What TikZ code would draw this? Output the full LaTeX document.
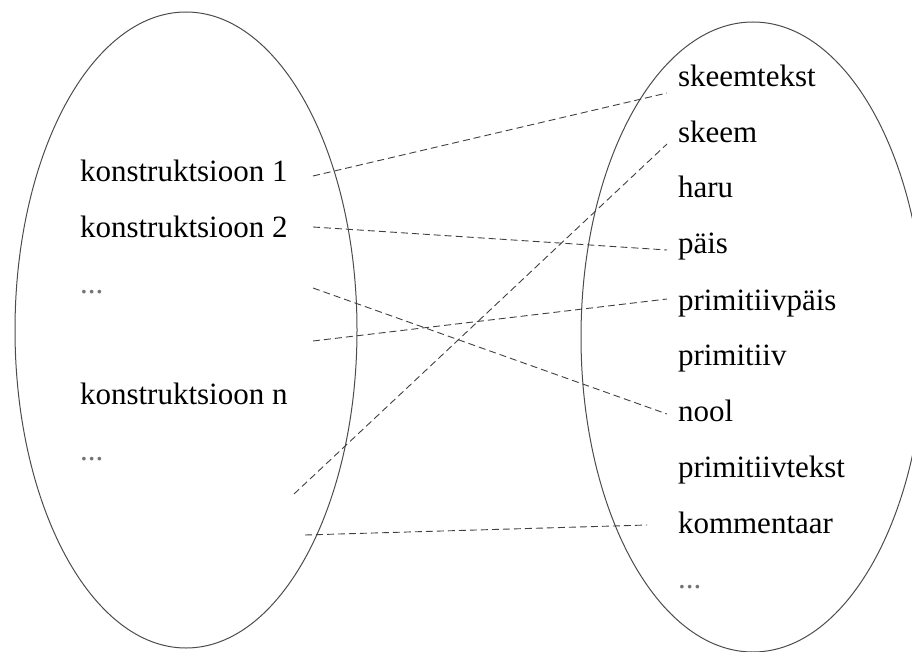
\documentclass[tikz,border=0pt]{standalone}
\usepackage{fontspec}
\setmainfont{Liberation Serif}
\begin{document}
\begin{tikzpicture}[x=1pt,y=-1pt,
  every node/.style={inner sep=0pt, outer sep=0pt, anchor=base west,
    font=\fontsize{31}{37}\selectfont},
  dots/.style={text=black!55},
  setline/.style={draw=black!70, line width=1pt},
  link/.style={draw=black!75, line width=0.9pt, dash pattern=on 7pt off 4pt}]
\useasboundingbox (0,0) rectangle (912,652);

% the two sets
\draw[setline] (186,330) ellipse [x radius=171, y radius=318];
\draw[setline] (753,337) ellipse [x radius=172, y radius=315];

% constructions
\node (k1) at (80,182) {konstruktsioon 1};
\node (k2) at (80,237) {konstruktsioon 2};
\node[dots] (kd1) at (80,293) {...};
\node (kn) at (80,404) {konstruktsioon n};
\node[dots] (kd2) at (80,460) {...};

% diagram elements
\node (st) at (678,87) {skeemtekst};
\node (sk) at (678,143) {skeem};
\node (ha) at (678,198) {haru};
\node (pa) at (678,254) {päis};
\node (pp) at (678,310) {primitiivpäis};
\node (pr) at (678,365) {primitiiv};
\node (no) at (678,421) {nool};
\node (pt) at (678,477) {primitiivtekst};
\node (ko) at (678,533) {kommentaar};
\node[dots] (rd) at (678,588) {...};

% line ends
\coordinate (a1) at (313,176);
\coordinate (a2) at (313,227);
\coordinate (a3) at (313,288);
\coordinate (a4) at (313,341);
\coordinate (a5) at (294,494);
\coordinate (a6) at (305,535);
\coordinate (b1) at (667,93);
\coordinate (b2) at (667,250);
\coordinate (b3) at (667,414);
\coordinate (b4) at (667,299);
\coordinate (b5) at (667,144);
\coordinate (b6) at (647,525);

% mappings
\draw[link] (a1) -- (b1);
\draw[link] (a2) -- (b2);
\draw[link] (a3) -- (b3);
\draw[link] (a4) -- (b4);
\draw[link] (a5) -- (b5);
\draw[link] (a6) -- (b6);
\end{tikzpicture}
\end{document}
